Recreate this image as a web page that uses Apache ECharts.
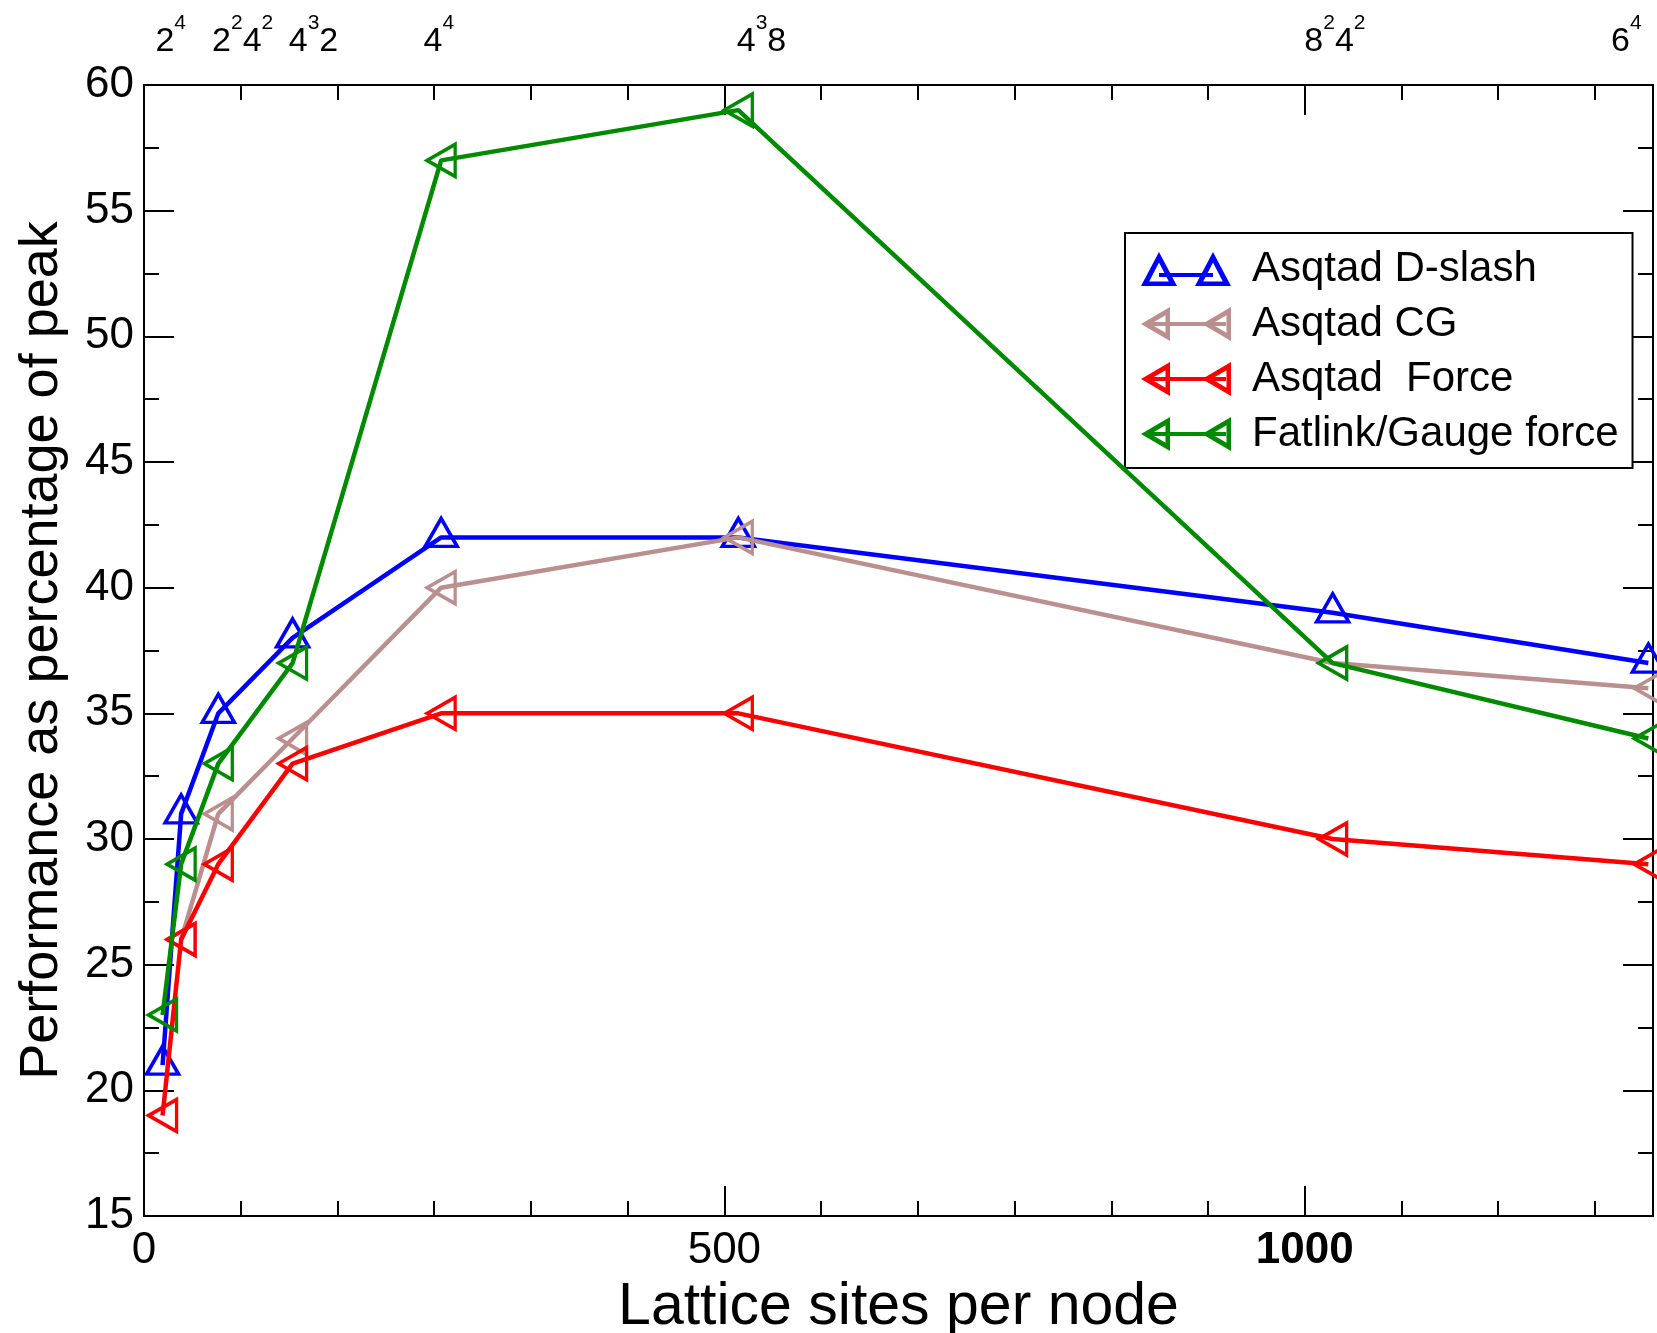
<!DOCTYPE html>
<html>
	<head>
		<meta charset="UTF-8">
		<title>Performance as percentage of peak</title>
		<script src="https://cdn.jsdelivr.net/npm/echarts@6/dist/echarts.min.js"></script>
		<style>
			html, body { margin: 0; padding: 0; background: #fff; }
		</style>
	</head>
	<body>
		<div id="main" style="width: 1657px;height:1333px;"></div>

		<script type="text/javascript">
			// lattice sites per node (x)
			var sites = [16, 32, 64, 128, 256, 512, 1024, 1296];
			// performance as % of peak
			var dslash = [21, 31, 35, 38, 42, 42, 39, 37];
			var cg = [null, 26, 31, 34, 40, 42, 37, 36];
			var force = [19, 26, 29, 33, 35, 35, 30, 29];
			var fatlink = [23, 29, 33, 37, 57, 59, 37, 34];

			var names = ['Asqtad D-slash', 'Asqtad CG', 'Asqtad  Force', 'Fatlink/Gauge force'];
			var colors = ['#0000ff', '#bc8f8f', '#ff0000', '#008b00'];

			// lattice shapes written over the top axis
			var topTickValues = [23, 85, 146, 254, 532, 1026, 1277];
			var topTickLabels = ['2^4', '2^24^2', '4^32', '4^4', '4^38', '8^24^2', '6^4'];
			var bottomTicks = [0, 500, 1000];

			var minorX = [];
			for (var k = 1; k < 16; k++) {
				if (k % 6 != 0) minorX.push(k * 500 / 6);
			}

			var FONT = 'Liberation Sans';

			function supLabel(s) {
				return '{b|' + s.replace(/\^(\d)/g, '}{s|$1}{b|') + '}';
			}

			function pairs(ys) {
				var out = [];
				for (var i = 0; i < sites.length; i++) {
					if (ys[i] != null) out.push([sites[i], ys[i]]);
				}
				return out;
			}

			// legend icons: two hollow triangles joined by a line
			var upIcon = 'path://M18 0L36 34L0 34Z M18 10.5L8.2 29.5L27.8 29.5Z' +
				'M72 0L90 34L54 34Z M72 10.5L62.2 29.5L81.8 29.5Z' +
				'M18 21L72 21L72 25L18 25Z';
			var leftIcon = 'path://M0 17L29 0L29 34Z M9.5 17L24.5 25.8L24.5 8.2Z' +
				'M61 17L90 0L90 34Z M70.5 17L85.5 25.8L85.5 8.2Z' +
				'M8 15L85 15L85 19L8 19Z';

			var blackLine = { color: '#000', width: 2 };

			function mkSeries(i, ys, up) {
				return {
					name: names[i],
					type: 'line',
					data: pairs(ys),
					symbol: 'triangle',
					symbolSize: [32, 28],
					symbolRotate: up ? 0 : 90,
					symbolOffset: up ? [0, -5] : [0, 0],
					showAllSymbol: true,
					lineStyle: { color: colors[i], width: 4.5 },
					itemStyle: { color: 'rgba(0,0,0,0)', borderColor: colors[i], borderWidth: 3.5 },
					emphasis: { disabled: true },
					z: 3 + i
				};
			}

			var option = {
				backgroundColor: '#fff',
				animation: false,
				textStyle: { fontFamily: FONT, color: '#000' },
				grid: { left: 144, right: 4, top: 85, bottom: 117, outerBoundsMode: 'none', containLabel: false },
				legend: {
					orient: 'vertical',
					left: 1125,
					top: 233,
					padding: [15, 14, 13, 16],
					itemWidth: 90,
					itemHeight: 34,
					itemGap: 13,
					borderColor: '#000',
					borderWidth: 2,
					backgroundColor: '#fff',
					selectedMode: false,
					textStyle: { fontFamily: FONT, fontSize: 42, color: '#000', lineHeight: 41, padding: [0, 0, 0, 16] },
					data: names.map(function (n, i) {
						return { name: n, icon: i == 0 ? upIcon : leftIcon, itemStyle: { color: colors[i], borderWidth: 0 } };
					})
				},
				xAxis: [{
					type: 'value', position: 'bottom', min: 0, max: 1300,
					axisLine: { show: true, onZero: false, lineStyle: blackLine },
					axisTick: { show: true, inside: true, length: 30, customValues: bottomTicks, lineStyle: blackLine },
					axisLabel: {
						customValues: bottomTicks, fontSize: 44, margin: 13, color: '#000',
						formatter: function (v) { return v == 1000 ? '{bd|1000}' : String(v); },
						rich: { bd: { fontFamily: FONT, fontSize: 44, fontWeight: 'bold', color: '#000' } }
					},
					splitLine: { show: false },
					name: 'Lattice sites per node',
					nameLocation: 'middle',
					nameGap: 56,
					nameTextStyle: { fontSize: 59, color: '#000' }
				}, {
					type: 'value', position: 'bottom', min: 0, max: 1300,
					axisLine: { show: false, onZero: false },
					axisTick: { show: true, inside: true, length: 15, customValues: minorX, lineStyle: blackLine },
					axisLabel: { show: false },
					splitLine: { show: false }
				}, {
					type: 'value', position: 'top', min: 0, max: 1300,
					axisLine: { show: true, onZero: false, lineStyle: blackLine },
					axisTick: { show: true, inside: true, length: 30, customValues: [500, 1000], lineStyle: blackLine },
					axisLabel: {
						customValues: topTickValues,
						margin: 14,
						formatter: function (v) {
							var idx = topTickValues.indexOf(v);
							return idx < 0 ? '' : supLabel(topTickLabels[idx]);
						},
						rich: {
							b: { fontFamily: FONT, fontSize: 34, lineHeight: 58, color: '#000' },
							s: { fontFamily: FONT, fontSize: 21, lineHeight: 16, verticalAlign: 'top', color: '#000' }
						}
					},
					splitLine: { show: false }
				}, {
					type: 'value', position: 'top', min: 0, max: 1300,
					axisLine: { show: false, onZero: false },
					axisTick: { show: true, inside: true, length: 15, customValues: minorX, lineStyle: blackLine },
					axisLabel: { show: false },
					splitLine: { show: false }
				}],
				yAxis: [{
					type: 'value', position: 'left', min: 15, max: 60, interval: 5,
					axisLine: { show: true, onZero: false, lineStyle: blackLine },
					axisTick: { show: true, inside: true, length: 30, lineStyle: blackLine },
					minorTick: { show: true, splitNumber: 2, length: 15, lineStyle: blackLine },
					axisLabel: { fontSize: 44, margin: 10, color: '#000' },
					splitLine: { show: false },
					name: 'Performance as percentage of peak',
					nameLocation: 'middle',
					nameGap: 75,
					nameTextStyle: { fontSize: 54, color: '#000' }
				}, {
					type: 'value', position: 'right', min: 15, max: 60, interval: 5,
					axisLine: { show: true, onZero: false, lineStyle: blackLine },
					axisTick: { show: true, inside: true, length: 30, lineStyle: blackLine },
					minorTick: { show: true, splitNumber: 2, length: 15, lineStyle: blackLine },
					axisLabel: { show: false },
					splitLine: { show: false }
				}],
				series: [
					mkSeries(0, dslash, true),
					mkSeries(1, cg, false),
					mkSeries(2, force, false),
					mkSeries(3, fatlink, false)
				]
			};

			echarts.init(document.getElementById('main')).setOption(option);
		</script>
	</body>
</html>
